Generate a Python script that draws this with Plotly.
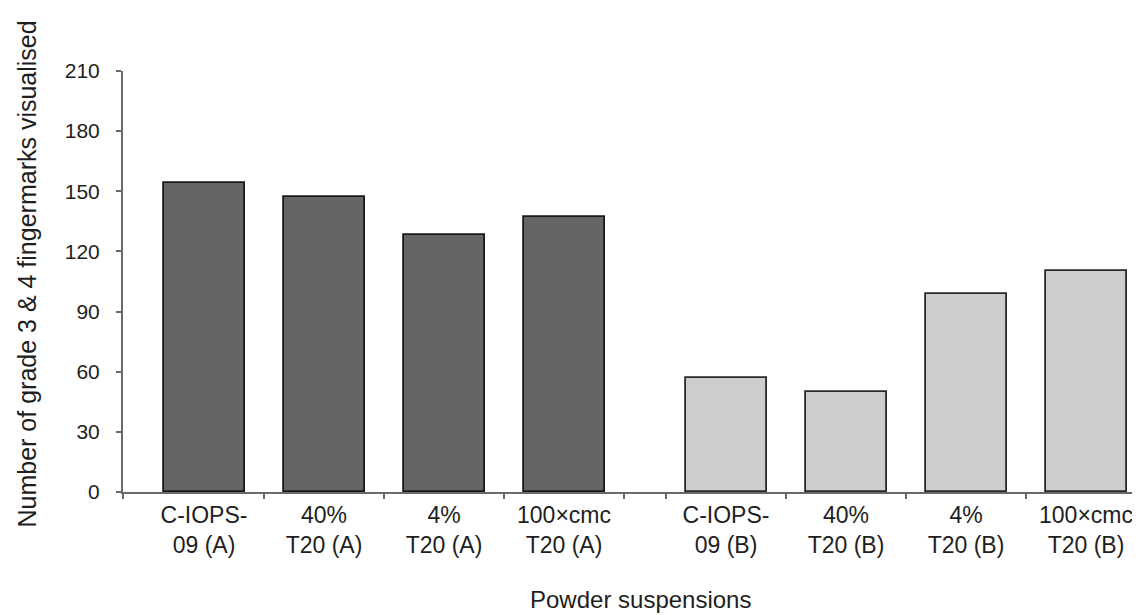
import plotly.graph_objects as go

# fingermark counts per powder suspension, formulation A and B
labels_a = ["C-IOPS-<br>09 (A)", "40%<br>T20 (A)", "4%<br>T20 (A)", "100×cmc<br>T20 (A)"]
labels_b = ["C-IOPS-<br>09 (B)", "40%<br>T20 (B)", "4%<br>T20 (B)", "100×cmc<br>T20 (B)"]
counts_a = [154, 147, 128, 137]
counts_b = [57, 50, 99, 110]
y_ticks = [0, 30, 60, 90, 120, 150, 180, 210]

FONT = "Liberation Sans, Arial, sans-serif"
GROUP_GAP = 0.35

# page has an 8px body margin, so the figure is sized/offset to compensate
W, H = 1132, 607
ML, MT, MB = 115, 63, 123
PW, PH = W - ML, H - MT - MB

xa = [i for i in range(len(counts_a))]
xb = [len(counts_a) + GROUP_GAP + i for i in range(len(counts_b))]
xr = [-0.675, -0.675 + PW / 120]
bounds = [xr[0]] + [x + 0.5 for x in xa] + [x - 0.5 for x in xb]

fig = go.Figure()
fig.add_trace(go.Bar(
    x=xa, y=counts_a, width=0.675,
    marker=dict(color="#656565", line=dict(color="#1a1a1a", width=1.8)),
    showlegend=False,
))
fig.add_trace(go.Bar(
    x=xb, y=counts_b, width=0.675,
    marker=dict(color="#cdcdcd", line=dict(color="#2a2a2a", width=1.8)),
    showlegend=False,
))
# invisible trace to carry the boundary tick marks
fig.add_trace(go.Scatter(x=bounds, y=[0] * len(bounds), xaxis="x2", mode="markers",
                         marker=dict(opacity=0), hoverinfo="skip", showlegend=False))

fig.update_layout(
    width=W, height=H,
    margin=dict(l=ML, r=0, t=MT, b=MB, autoexpand=False),
    plot_bgcolor="white", paper_bgcolor="white",
    font=dict(family=FONT, color="#1e1e1e"),
    bargap=0,
    xaxis=dict(
        range=xr, tickvals=xa + xb, ticktext=labels_a + labels_b,
        ticks="", showline=True, linecolor="#6a6a6a", linewidth=2,
        tickfont=dict(size=23), showgrid=False, zeroline=False,
        ticklabelstandoff=1, automargin=False,
    ),
    xaxis2=dict(
        range=xr, overlaying="x", anchor="y", tickvals=bounds,
        showticklabels=False, ticks="outside", ticklen=6, tickwidth=1.5,
        tickcolor="#6a6a6a", showgrid=False, zeroline=False, showline=False,
        automargin=False,
    ),
    yaxis=dict(
        range=[0, 210], tickvals=y_ticks, ticks="outside", ticklen=5,
        tickwidth=1.5, tickcolor="#6a6a6a", showline=True, linecolor="#6a6a6a",
        linewidth=2, tickfont=dict(size=21), showgrid=False, zeroline=False,
        ticklabelstandoff=12, automargin=False,
    ),
    annotations=[
        dict(text="Number of grade 3 & 4 fingermarks visualised", textangle=-90,
             xref="paper", yref="paper", x=(18 - ML) / PW, y=(MT + PH - 266.5) / PH,
             xanchor="center", yanchor="middle", showarrow=False,
             font=dict(size=25, family=FONT, color="#1e1e1e")),
        dict(text="Powder suspensions", xref="paper", yref="paper",
             x=(632 - ML) / PW, y=(MT + PH - 591) / PH, xanchor="center", yanchor="middle",
             showarrow=False, font=dict(size=24, family=FONT, color="#1e1e1e")),
    ],
)

fig.write_html("out.html")
